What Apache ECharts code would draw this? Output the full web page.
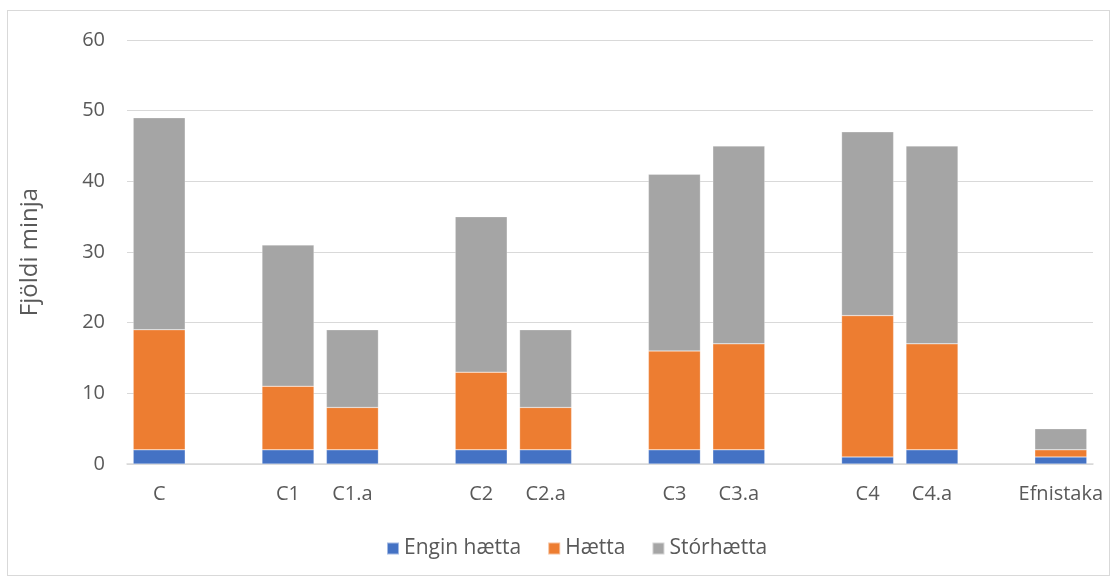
<!DOCTYPE html>
<html><head><meta charset="utf-8">
<script src="https://cdn.jsdelivr.net/npm/echarts@6/dist/echarts.min.js"></script>
<style>html,body{margin:0;padding:0;background:#fff}#c{width:1117px;height:580px}
#frame{position:absolute;left:7px;top:10px;width:1103px;height:566px;border:1px solid #d9d9d9;box-sizing:border-box;pointer-events:none}</style>
</head><body><div id="c"></div><div id="frame"></div>
<script>
const categories = ['C','','C1','C1.a','','C2','C2.a','','C3','C3.a','','C4','C4.a','','Efnistaka'];
const enginHaetta = [2,'-',2,2,'-',2,2,'-',2,2,'-',1,2,'-',1];
const haetta =      [17,'-',9,6,'-',11,6,'-',14,15,'-',20,15,'-',1];
const storhaetta =  [30,'-',20,11,'-',22,11,'-',25,28,'-',26,28,'-',3];
const seriesNames = ['Engin hætta','Hætta','Stórhætta'];
const colors = ['#4472c4','#ed7d31','#a5a5a5'];

const chart = echarts.init(document.getElementById('c'), null, {renderer:'canvas'});
const mk = (name, data, i) => ({
  name, type:'bar', stack:'a', data, barWidth:52,
  itemStyle:{color:colors[i], borderColor:'rgba(255,255,255,0.5)', borderWidth:0.5}
});
chart.setOption({
  animation:false,
  textStyle:{fontFamily:'"Open Sans", "Noto Sans", sans-serif'},
  grid:{left:127, right:24, top:40, bottom:116, containLabel:false},
  legend:{bottom:16, left:381, itemWidth:12, itemHeight:12, itemGap:26,
    icon:'rect', textStyle:{color:'#595959', fontSize:21, fontFamily:'"Open Sans", sans-serif'},
    data:seriesNames},
  xAxis:{type:'category', data:categories,
    axisLine:{lineStyle:{color:'#d9d9d9', width:1.5}}, axisTick:{show:false},
    axisLabel:{color:'#595959', fontSize:20, margin:20, interval:0}},
  yAxis:{type:'value', min:0, max:60, interval:10,
    name:'Fjöldi minja', nameLocation:'middle', nameGap:85, nameRotate:90,
    nameTextStyle:{color:'#595959', fontSize:24},
    axisLine:{show:false}, axisTick:{show:false},
    axisLabel:{color:'#595959', fontSize:20, margin:22},
    splitLine:{lineStyle:{color:'#d9d9d9', width:1}}},
  series:[mk(seriesNames[0], enginHaetta,0), mk(seriesNames[1], haetta,1), mk(seriesNames[2], storhaetta,2)]
});
</script></body></html>
